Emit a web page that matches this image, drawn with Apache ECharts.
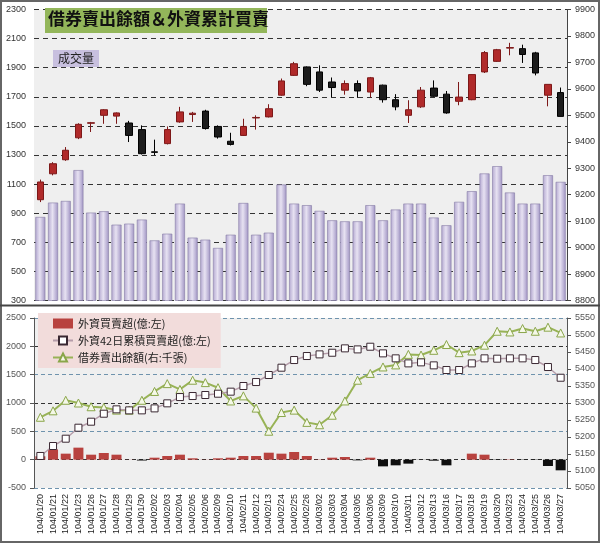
<!DOCTYPE html>
<html><head><meta charset="utf-8">
<script src="https://cdn.jsdelivr.net/npm/echarts@6/dist/echarts.min.js"></script>
<style>html,body{margin:0;padding:0;background:#fff}#c{width:600px;height:543px}</style>
</head><body><div id="c"></div>
<script>
const dates = ['104/01/20','104/01/21','104/01/22','104/01/23','104/01/26','104/01/27','104/01/28','104/01/29','104/01/30',
'104/02/02','104/02/03','104/02/04','104/02/05','104/02/06','104/02/09','104/02/10','104/02/11','104/02/12','104/02/13','104/02/24','104/02/25','104/02/26',
'104/03/02','104/03/03','104/03/04','104/03/05','104/03/06','104/03/09','104/03/10','104/03/11','104/03/12','104/03/13','104/03/16','104/03/17','104/03/18','104/03/19','104/03/20','104/03/23','104/03/24','104/03/25','104/03/26','104/03/27'];
const idxOpen  = [9181,9279,9332,9415,9470,9500,9497,9471,9446,9362,9393,9475,9503,9516,9458,9402,9424,9490,9494,9576,9651,9683,9664,9626,9595,9620,9588,9614,9559,9500,9532,9603,9580,9553,9559,9664,9704,9754,9752,9736,9576,9586];
const idxClose = [9248,9317,9368,9466,9472,9521,9509,9424,9355,9360,9446,9513,9508,9450,9418,9390,9458,9492,9525,9630,9695,9617,9595,9605,9620,9592,9642,9559,9532,9521,9595,9572,9509,9569,9654,9737,9748,9756,9730,9660,9617,9496];
const idxLow   = [9172,9273,9328,9410,9437,9468,9468,9399,9352,9349,9390,9472,9475,9446,9412,9386,9422,9446,9492,9574,9649,9610,9588,9569,9578,9566,9567,9548,9519,9471,9528,9570,9506,9538,9557,9660,9702,9727,9698,9651,9534,9496];
const idxHigh  = [9257,9323,9380,9470,9475,9523,9511,9479,9462,9408,9458,9532,9513,9521,9462,9434,9487,9500,9542,9639,9702,9685,9689,9643,9632,9632,9645,9616,9580,9557,9607,9632,9592,9626,9655,9743,9751,9774,9767,9740,9617,9605];
const volume = [874,973,984,1196,904,913,821,828,856,713,759,966,732,718,661,752,970,752,766,1097,966,955,916,851,844,844,955,851,925,966,966,870,817,978,1051,1173,1223,1042,966,966,1161,1115];
const foreignNet = [59,182,106,212,88,118,88,2,-15,35,65,88,24,3,24,35,65,65,123,106,135,65,5,35,47,-12,35,-118,-100,-70,-3,-18,-100,0,106,88,-6,6,-6,-6,-112,-188];
const foreignCum42 = [65,241,370,564,670,811,888,870,870,905,994,1105,1123,1141,1164,1200,1300,1370,1494,1623,1758,1829,1858,1887,1964,1946,1993,1876,1788,1699,1717,1664,1582,1582,1699,1788,1782,1788,1788,1758,1635,1446];
const shortBalance = [5258,5277,5308,5300,5289,5287,5279,5279,5308,5334,5357,5340,5367,5360,5345,5306,5321,5285,5217,5272,5279,5243,5236,5264,5306,5367,5387,5406,5412,5443,5441,5455,5472,5448,5453,5470,5511,5509,5519,5511,5523,5506];
const titleText = '借券賣出餘額＆外資累計買賣';
const volLabel = '成交量';
const seriesNames = ['外資買賣超(億:左)','外資42日累積買賣超(億:左)','借券賣出餘額(右:千張)'];

const candleData = idxOpen.map((o,i)=>[o, idxClose[i], idxLow[i], idxHigh[i]]);
const chart = echarts.init(document.getElementById('c'), null, {renderer:'canvas'});
const plain = v => String(v);
const lblStyle = {fontSize:9, color:'#333', fontFamily:'Liberation Sans', formatter:plain};
const G = echarts.graphic;
chart.setOption({
  animation:false,
  backgroundColor:'#fff',
  grid:[
    {left:34, right:33, top:9.5, height:291, show:true, backgroundColor:'#efefef', borderWidth:0},
    {left:34, right:33, top:318, height:170, show:true, backgroundColor:'#efefef', borderWidth:0}
  ],
  legend:{
    data:[{name:seriesNames[0], icon:'rect', itemStyle:{color:'#b8423f'}}, {name:seriesNames[1]}, {name:seriesNames[2]}],
    left:38, top:313, orient:'vertical',
    backgroundColor:'#f2dcdb', padding:[5,10,5,14], itemGap:6, itemWidth:20, itemHeight:10,
    textStyle:{fontSize:11, color:'#222', fontFamily:'Noto Sans CJK TC'}
  },
  xAxis:[
    {type:'category', gridIndex:0, data:dates, boundaryGap:true, axisLabel:{show:false}, axisTick:{show:false}, axisLine:{show:false}},
    {type:'category', gridIndex:1, data:dates, boundaryGap:true, axisLine:{show:false, onZero:false}, axisTick:{show:false},
     axisLabel:{rotate:90, interval:0, fontSize:9, color:'#222', fontFamily:'Liberation Sans', margin:6}}
  ],
  yAxis:[
    {type:'value', gridIndex:0, position:'left', min:300, max:2300, interval:200,
     axisLabel:lblStyle, axisLine:{show:false}, axisTick:{show:false},
     splitLine:{show:true, lineStyle:{type:[5,4], color:'#333', width:1}}},
    {type:'value', gridIndex:0, position:'right', min:8800, max:9900, interval:100,
     axisLabel:Object.assign({margin:8}, lblStyle), axisLine:{show:true, lineStyle:{color:'#444'}},
     axisTick:{show:true, length:4, lineStyle:{color:'#444'}}, splitLine:{show:false}},
    {type:'value', gridIndex:1, position:'left', min:-500, max:2500, interval:500,
     axisLabel:Object.assign({}, lblStyle, {color:'#555'}), axisLine:{show:true, lineStyle:{color:'#555'}},
     axisTick:{show:true, length:4, lineStyle:{color:'#555'}},
     splitLine:{show:true, lineStyle:{type:[4,3], color:['#6f93ad','#333'], width:1}}},
    {type:'value', gridIndex:1, position:'right', min:5050, max:5550, interval:50,
     axisLabel:Object.assign({margin:8}, lblStyle, {color:'#555'}), axisLine:{show:true, lineStyle:{color:'#555'}},
     axisTick:{show:true, length:4, lineStyle:{color:'#555'}}, splitLine:{show:false}}
  ],
  series:[
    {name:volLabel, type:'bar', xAxisIndex:0, yAxisIndex:0, data:volume, barWidth:10,
     itemStyle:{color:new G.LinearGradient(0,0,1,0,[{offset:0,color:'#b3a8d0'},{offset:0.45,color:'#e7e2f2'},{offset:1,color:'#a195c4'}]),
       borderColor:'#857aa5', borderWidth:0.6}},
    {name:'加權指數', type:'candlestick', xAxisIndex:0, yAxisIndex:1, data:candleData, barWidth:7,
     itemStyle:{color:'#b02a2a', color0:'#1c1c1c', borderColor:'#7d1818', borderColor0:'#000', borderWidth:1}},
    {name:seriesNames[0], type:'bar', xAxisIndex:1, yAxisIndex:2, data:foreignNet, barWidth:10,
     itemStyle:{color:p => p.value >= 0 ? '#b8423f' : '#0e0e0e'}},
    {name:seriesNames[2], type:'line', xAxisIndex:1, yAxisIndex:3, data:shortBalance,
     symbol:'triangle', symbolSize:8, showAllSymbol:true,
     lineStyle:{color:'#98b356', width:2}, itemStyle:{color:'#f5f8e8', borderColor:'#8aa64a', borderWidth:1}},
    {name:seriesNames[1], type:'line', xAxisIndex:1, yAxisIndex:2, data:foreignCum42,
     symbol:'rect', symbolSize:7, showAllSymbol:true,
     lineStyle:{color:'#b59ca9', width:1.5}, itemStyle:{color:'#fff', borderColor:'#3a2832', borderWidth:1}}
  ],
  graphic:[
    {type:'rect', z:100, shape:{x:1, y:1, width:598, height:541}, style:{fill:'none', stroke:'#666', lineWidth:2}},
    {type:'line', z:100, shape:{x1:0, y1:305.5, x2:600, y2:305.5}, style:{stroke:'#444', lineWidth:2}},
    {type:'rect', z:100, shape:{x:45, y:8, width:222, height:25}, style:{fill:'#93b65a'}},
    {type:'text', z:101, x:48, y:10, style:{text:titleText, fontSize:17, fontWeight:'bold', fill:'#111', fontFamily:'Noto Sans CJK TC'}},
    {type:'rect', z:100, shape:{x:53, y:50, width:46, height:17}, style:{fill:'#c8c0df'}},
    {type:'text', z:101, x:58, y:52, style:{text:volLabel, fontSize:12, fill:'#222', fontFamily:'Noto Sans CJK TC'}}
  ]
});
</script></body></html>
